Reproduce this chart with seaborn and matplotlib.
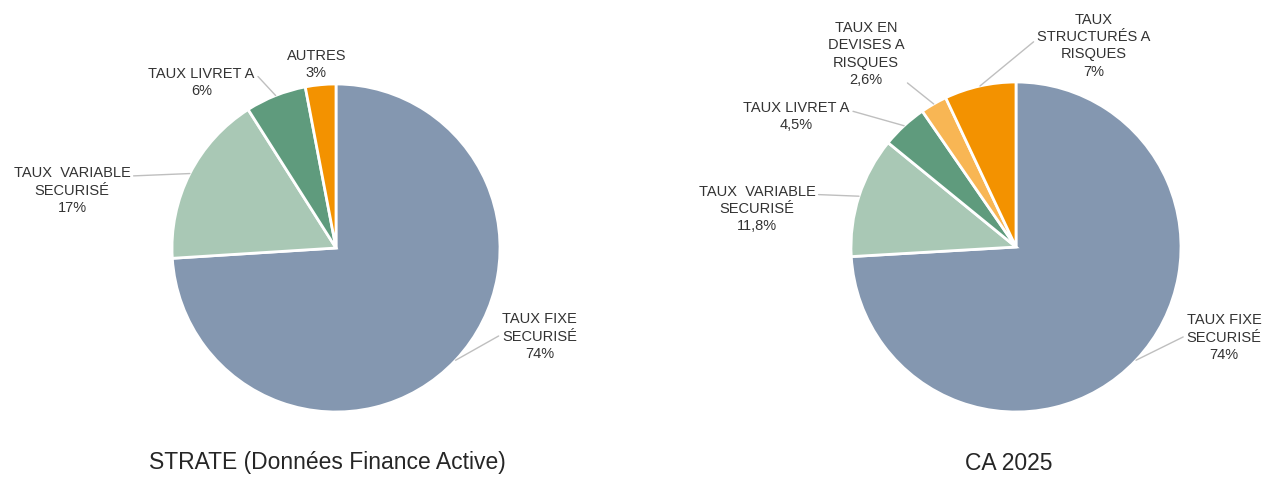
import numpy as np
import seaborn as sns
import matplotlib.pyplot as plt

# data
strate_labels = ["TAUX FIXE\nSECURISÉ\n74%", "TAUX  VARIABLE\nSECURISÉ\n17%",
                 "TAUX LIVRET A\n6%", "AUTRES\n3%"]
strate_values = [74, 17, 6, 3]

ca_labels = ["TAUX FIXE\nSECURISÉ\n74%", "TAUX  VARIABLE\nSECURISÉ\n11,8%",
             "TAUX LIVRET A\n4,5%", "TAUX EN\nDEVISES A\nRISQUES\n2,6%",
             "TAUX\nSTRUCTURÉS A\nRISQUES\n7%"]
ca_values = [74, 11.8, 4.5, 2.6, 7]

strate_colors = ["#8497B0", "#A9C8B5", "#5F9B7D", "#F39200"]
ca_colors = ["#8497B0", "#A9C8B5", "#5F9B7D", "#F8B654", "#F39200"]

sns.set_theme(style="white")
plt.rcParams["font.family"] = ["Liberation Sans", "DejaVu Sans"]

fig = plt.figure(figsize=(12.67, 4.79), dpi=100)
W, H = 1267, 479
S = 479


def pie_axes(cx, cy):
    return fig.add_axes([(cx - S / 2) / W, (H - cy - S / 2) / H, S / W, S / H])


def draw(ax, r, values, labels, colors, layout):
    wedges, _ = ax.pie(values, colors=colors, startangle=90, counterclock=False,
                       wedgeprops=dict(edgecolor="white", linewidth=2))
    L = S / (2 * r)
    ax.set_xlim(-L, L)
    ax.set_ylim(-L, L)
    ax.set_aspect("equal")
    ax.axis("off")
    for w, lab, (tx, ty, rel) in zip(wedges, labels, layout):
        mid = np.deg2rad((w.theta1 + w.theta2) / 2)
        xy = (np.cos(mid), np.sin(mid))
        if rel is None:
            ax.text(tx, ty, lab, ha="center", va="center", fontsize=10.5,
                    color="#333333", linespacing=1.3)
        else:
            ax.annotate(lab, xy=xy, xytext=(tx, ty), ha="center", va="center",
                        fontsize=10.5, color="#333333", linespacing=1.3,
                        arrowprops=dict(arrowstyle="-", color="#BFBFBF", lw=1,
                                        relpos=rel, shrinkA=0, shrinkB=0))


ax1 = pie_axes(336, 248)
draw(ax1, 164, strate_values, strate_labels, strate_colors,
     [(1.24, -0.54, (0, 0.55)), (-1.61, 0.35, (1, 0.8)),
      (-0.82, 1.01, (1, 0.8)), (-0.12, 1.12, None)])

ax2 = pie_axes(1016, 247)
draw(ax2, 165, ca_values, ca_labels, ca_colors,
     [(1.26, -0.55, (0, 0.55)), (-1.57, 0.23, (1, 0.8)),
      (-1.33, 0.79, (1, 0.7)), (-0.91, 1.17, (1, 0.1)),
      (0.47, 1.22, (0, 0.6))])

fig.text(327 / W, (H - 463) / H, "STRATE (Données Finance Active)",
         ha="center", va="center", fontsize=16.5, color="#262626")
fig.text(1009 / W, (H - 463) / H, "CA 2025",
         ha="center", va="center", fontsize=16.5, color="#262626")

fig.savefig("out.png", dpi=100, facecolor="white")
